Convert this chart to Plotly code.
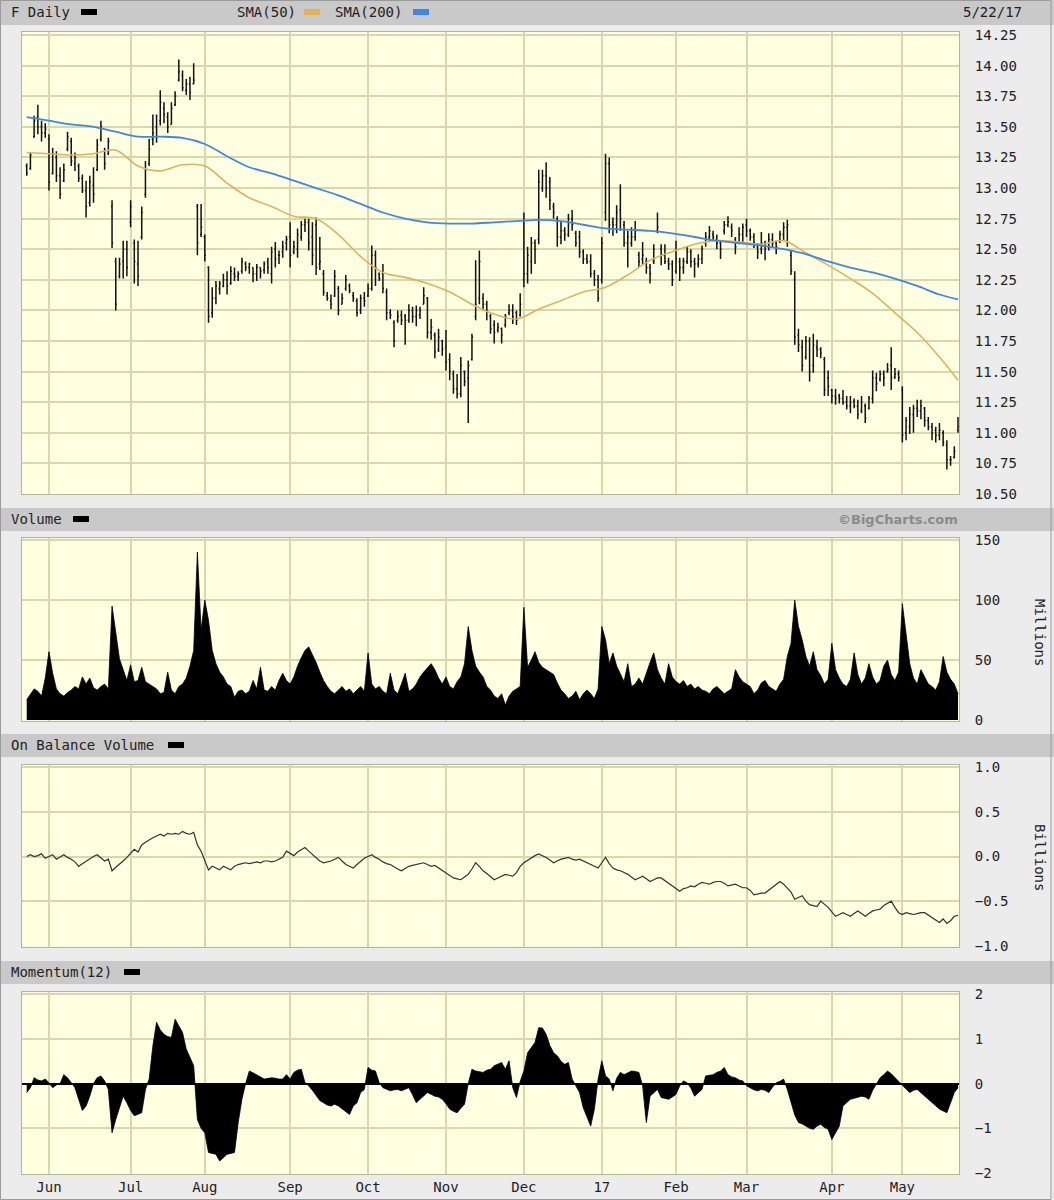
import pandas as pd
import plotly.graph_objects as go

# trading days shown (May 23 2016 .. May 22 2017, NYSE holidays removed)
holidays = ['2016-05-30', '2016-07-04', '2016-09-05', '2016-11-24', '2016-12-26',
            '2017-01-02', '2017-01-16', '2017-02-20', '2017-04-14']
days = pd.bdate_range('2016-05-23', '2017-05-22')
days = days[~days.isin(pd.to_datetime(holidays))]
dates = [d.strftime('%Y-%m-%d') for d in days]

month_starts = ['2016-06-01', '2016-07-01', '2016-08-01', '2016-09-01', '2016-10-03', '2016-11-01',
                '2016-12-01', '2017-01-03', '2017-02-01', '2017-03-01', '2017-04-03', '2017-05-01']
month_labels = ['Jun', 'Jul', 'Aug', 'Sep', 'Oct', 'Nov', 'Dec', '17', 'Feb', 'Mar', 'Apr', 'May']

# daily price bars (one row per month)
high = [
    13.20, 13.29, 13.59, 13.68, 13.55, 13.53,
    13.44, 13.33, 13.30, 13.17, 13.20, 13.46, 13.41, 13.29, 13.20, 13.11, 13.06, 13.10, 13.17, 13.40, 13.55, 13.33, 13.41, 12.90, 12.43, 12.43, 12.57, 12.57,
    12.90, 12.58, 12.57, 12.85, 13.22, 13.40, 13.60, 13.60, 13.80, 13.70, 13.62, 13.70, 13.79, 14.05, 13.96, 13.89, 13.91, 14.02, 12.87, 12.87,
    12.62, 12.36, 12.19, 12.24, 12.24, 12.30, 12.32, 12.36, 12.35, 12.32, 12.43, 12.40, 12.39, 12.35, 12.38, 12.35, 12.40, 12.43, 12.52, 12.56, 12.49, 12.57, 12.61,
    12.72, 12.57, 12.67, 12.73, 12.75, 12.75, 12.72, 12.76, 12.60, 12.33, 12.15, 12.13, 12.33, 12.20, 12.14, 12.29, 12.22, 12.15, 12.10, 12.13, 12.15,
    12.22, 12.53, 12.49, 12.31, 12.38, 12.18, 12.01, 11.92, 12.00, 12.00, 11.97, 12.05, 12.03, 12.04, 12.03, 12.19, 12.11, 11.93, 11.82, 11.85, 11.76,
    11.84, 11.65, 11.51, 11.48, 11.62, 11.51, 11.59, 11.81, 12.41, 12.49, 12.14, 12.08, 11.97, 11.92, 11.90, 11.86, 11.97, 12.05, 12.05, 12.00, 12.14,
    12.80, 12.52, 12.60, 12.58, 13.15, 13.15, 13.21, 13.09, 12.88, 12.77, 12.73, 12.68, 12.79, 12.82, 12.65, 12.65, 12.50, 12.46, 12.46, 12.33, 12.29,
    12.60, 13.28, 13.25, 12.76, 12.86, 13.03, 12.73, 12.65, 12.68, 12.73, 12.48, 12.56, 12.43, 12.38, 12.54, 12.80, 12.54, 12.54, 12.43, 12.41,
    12.57, 12.43, 12.43, 12.52, 12.50, 12.43, 12.46, 12.53, 12.64, 12.69, 12.65, 12.62, 12.57, 12.73, 12.77, 12.71, 12.60, 12.68, 12.71,
    12.75, 12.67, 12.63, 12.55, 12.64, 12.57, 12.63, 12.63, 12.57, 12.65, 12.72, 12.74, 12.49, 12.32, 11.85, 11.76, 11.79, 11.78, 11.81, 11.76, 11.70, 11.62, 11.51,
    11.36, 11.36, 11.32, 11.35, 11.30, 11.30, 11.28, 11.27, 11.30, 11.24, 11.30, 11.51, 11.49, 11.51, 11.51, 11.57, 11.70, 11.53, 11.51,
    11.38, 11.13, 11.21, 11.23, 11.27, 11.27, 11.21, 11.13, 11.08, 11.05, 11.08, 11.02, 10.94, 10.81, 10.89, 11.13,
]
low = [
    13.10, 13.15, 13.41, 13.44, 13.38, 13.41,
    12.98, 13.11, 13.05, 12.91, 13.05, 13.30, 13.18, 13.14, 13.05, 12.96, 12.76, 12.85, 12.88, 13.14, 13.38, 13.15, 13.27, 12.51, 12.00, 12.26, 12.26, 12.28,
    12.68, 12.22, 12.20, 12.58, 12.92, 13.18, 13.35, 13.37, 13.51, 13.53, 13.45, 13.52, 13.67, 13.87, 13.79, 13.76, 13.72, 13.85, 12.45, 12.60,
    12.40, 11.90, 11.94, 12.05, 12.13, 12.19, 12.13, 12.21, 12.24, 12.24, 12.30, 12.32, 12.30, 12.23, 12.24, 12.26, 12.30, 12.30, 12.22, 12.35, 12.38, 12.43, 12.49,
    12.35, 12.46, 12.43, 12.57, 12.64, 12.49, 12.37, 12.29, 12.33, 12.12, 12.08, 12.01, 12.11, 11.96, 12.05, 12.16, 12.14, 12.07, 11.95, 11.97, 12.03,
    12.11, 12.16, 12.20, 12.24, 12.14, 11.92, 11.93, 11.70, 11.90, 11.88, 11.72, 11.90, 11.90, 11.87, 11.93, 12.05, 11.77, 11.76, 11.61, 11.66, 11.63,
    11.51, 11.43, 11.32, 11.28, 11.29, 11.38, 11.08, 11.59, 11.92, 12.05, 12.00, 11.92, 11.81, 11.73, 11.82, 11.73, 11.86, 11.96, 11.89, 11.88, 11.95,
    12.19, 12.22, 12.30, 12.38, 12.54, 12.97, 12.92, 12.82, 12.75, 12.52, 12.54, 12.57, 12.60, 12.65, 12.52, 12.43, 12.38, 12.38, 12.27, 12.20, 12.07,
    12.22, 12.73, 12.63, 12.61, 12.63, 12.65, 12.52, 12.35, 12.52, 12.57, 12.35, 12.38, 12.30, 12.22, 12.38, 12.63, 12.37, 12.38, 12.33, 12.20,
    12.30, 12.24, 12.30, 12.38, 12.35, 12.27, 12.35, 12.38, 12.52, 12.57, 12.57, 12.50, 12.42, 12.62, 12.68, 12.60, 12.46, 12.54, 12.54,
    12.60, 12.57, 12.51, 12.42, 12.46, 12.41, 12.49, 12.52, 12.46, 12.55, 12.57, 12.52, 12.29, 11.72, 11.66, 11.50, 11.60, 11.42, 11.49, 11.62, 11.61, 11.30, 11.30,
    11.24, 11.23, 11.24, 11.23, 11.19, 11.16, 11.20, 11.11, 11.16, 11.08, 11.19, 11.24, 11.34, 11.42, 11.38, 11.49, 11.35, 11.44, 11.42,
    10.92, 10.94, 10.99, 11.00, 11.13, 11.11, 11.05, 11.02, 10.94, 10.92, 10.94, 10.89, 10.70, 10.73, 10.79, 11.00,
]
open_ = [
    13.18, 13.16, 13.42, 13.58, 13.50, 13.45,
    13.40, 13.12, 13.25, 13.10, 13.06, 13.32, 13.38, 13.20, 13.18, 13.08, 12.98, 12.88, 13.02, 13.15, 13.40, 13.30, 13.28, 12.85, 12.40, 12.28, 12.40, 12.50,
    12.72, 12.55, 12.38, 12.60, 12.95, 13.20, 13.40, 13.50, 13.55, 13.65, 13.58, 13.52, 13.68, 13.88, 13.92, 13.80, 13.85, 13.85, 12.85, 12.62,
    12.60, 12.35, 11.98, 12.10, 12.18, 12.20, 12.25, 12.22, 12.30, 12.28, 12.32, 12.38, 12.35, 12.35, 12.30, 12.35, 12.33, 12.40, 12.30, 12.50, 12.45, 12.48, 12.55,
    12.60, 12.48, 12.50, 12.60, 12.70, 12.72, 12.60, 12.70, 12.38, 12.30, 12.12, 12.08, 12.12, 12.18, 12.05, 12.18, 12.20, 12.12, 12.08, 12.00, 12.10,
    12.12, 12.18, 12.45, 12.30, 12.30, 12.15, 11.98, 11.90, 11.92, 11.96, 11.95, 11.92, 12.00, 11.95, 11.96, 12.05, 12.10, 11.82, 11.80, 11.68, 11.75,
    11.70, 11.60, 11.48, 11.36, 11.32, 11.50, 11.45, 11.60, 11.95, 12.10, 12.10, 12.05, 11.95, 11.88, 11.84, 11.85, 11.88, 11.98, 12.00, 11.98, 11.96,
    12.25, 12.30, 12.40, 12.55, 12.58, 13.00, 13.10, 13.05, 12.85, 12.75, 12.60, 12.65, 12.62, 12.75, 12.63, 12.60, 12.48, 12.42, 12.40, 12.30, 12.25,
    12.25, 12.80, 13.20, 12.72, 12.70, 12.82, 12.70, 12.55, 12.55, 12.60, 12.45, 12.42, 12.40, 12.35, 12.40, 12.65, 12.50, 12.45, 12.40, 12.38,
    12.32, 12.40, 12.35, 12.40, 12.48, 12.40, 12.38, 12.42, 12.55, 12.60, 12.62, 12.58, 12.55, 12.65, 12.70, 12.68, 12.58, 12.56, 12.62,
    12.70, 12.65, 12.60, 12.52, 12.50, 12.55, 12.52, 12.58, 12.55, 12.57, 12.62, 12.68, 12.45, 12.25, 11.80, 11.70, 11.62, 11.75, 11.55, 11.70, 11.68, 11.60, 11.45,
    11.35, 11.30, 11.30, 11.28, 11.25, 11.22, 11.26, 11.22, 11.18, 11.22, 11.20, 11.28, 11.45, 11.44, 11.48, 11.50, 11.55, 11.46, 11.48,
    11.35, 11.00, 11.05, 11.15, 11.20, 11.18, 11.20, 11.10, 11.05, 11.02, 10.98, 11.00, 10.90, 10.78, 10.80, 11.02,
]
close = [
    13.12, 13.27, 13.55, 13.50, 13.45, 13.48,
    13.05, 13.28, 13.10, 12.95, 13.15, 13.42, 13.22, 13.25, 13.08, 12.98, 12.85, 13.05, 12.95, 13.35, 13.50, 13.20, 13.38, 12.55, 12.05, 12.38, 12.50, 12.35,
    12.85, 12.40, 12.28, 12.80, 13.15, 13.32, 13.45, 13.42, 13.70, 13.60, 13.50, 13.65, 13.75, 13.95, 13.82, 13.85, 13.78, 13.88, 12.55, 12.68,
    12.45, 11.95, 12.10, 12.20, 12.22, 12.25, 12.20, 12.32, 12.28, 12.30, 12.40, 12.35, 12.38, 12.30, 12.35, 12.32, 12.38, 12.35, 12.48, 12.42, 12.45, 12.52, 12.58,
    12.45, 12.52, 12.62, 12.70, 12.72, 12.55, 12.45, 12.35, 12.40, 12.15, 12.10, 12.05, 12.28, 12.00, 12.10, 12.25, 12.16, 12.10, 11.98, 12.10, 12.08,
    12.18, 12.45, 12.35, 12.26, 12.18, 11.98, 11.96, 11.75, 11.95, 11.92, 11.92, 12.00, 11.95, 12.00, 12.00, 12.12, 11.82, 11.86, 11.66, 11.78, 11.68,
    11.58, 11.50, 11.36, 11.32, 11.55, 11.42, 11.55, 11.78, 12.05, 12.40, 12.05, 12.00, 11.85, 11.82, 11.86, 11.80, 11.95, 12.00, 11.95, 11.92, 12.05,
    12.30, 12.45, 12.55, 12.50, 13.05, 13.10, 13.00, 12.90, 12.80, 12.60, 12.65, 12.62, 12.75, 12.70, 12.55, 12.48, 12.42, 12.40, 12.30, 12.25, 12.10,
    12.55, 13.20, 12.70, 12.70, 12.80, 12.75, 12.55, 12.60, 12.60, 12.65, 12.40, 12.45, 12.35, 12.30, 12.50, 12.68, 12.45, 12.40, 12.38, 12.25,
    12.42, 12.35, 12.40, 12.48, 12.40, 12.38, 12.42, 12.50, 12.60, 12.65, 12.60, 12.55, 12.50, 12.70, 12.72, 12.65, 12.52, 12.62, 12.68,
    12.65, 12.60, 12.55, 12.48, 12.55, 12.50, 12.58, 12.55, 12.52, 12.62, 12.68, 12.70, 12.32, 11.78, 11.72, 11.55, 11.75, 11.50, 11.72, 11.68, 11.65, 11.35, 11.38,
    11.30, 11.28, 11.28, 11.25, 11.22, 11.25, 11.22, 11.15, 11.25, 11.12, 11.28, 11.45, 11.40, 11.48, 11.45, 11.52, 11.45, 11.48, 11.45,
    10.98, 11.10, 11.15, 11.20, 11.18, 11.22, 11.10, 11.05, 11.00, 10.98, 11.02, 10.92, 10.78, 10.78, 10.85, 11.05,
]

# moving averages, read every 6th trading day (plus the last day)
sma_step = 6
sma50 = [13.29, 13.28, 13.27, 13.28, 13.31, 13.18, 13.14, 13.19, 13.18, 13.04, 12.92, 12.85, 12.77, 12.75,
         12.62, 12.44, 12.31, 12.27, 12.22, 12.15, 12.05, 11.97, 11.93, 12.01, 12.08, 12.15, 12.19, 12.29,
         12.41, 12.48, 12.54, 12.57, 12.56, 12.54, 12.57, 12.47, 12.37, 12.26, 12.14, 11.98, 11.82, 11.62, 11.43]
sma200 = [13.58, 13.55, 13.52, 13.50, 13.46, 13.42, 13.42, 13.41, 13.36, 13.26, 13.17, 13.12, 13.06, 13.00,
          12.94, 12.87, 12.80, 12.75, 12.72, 12.71, 12.71, 12.72, 12.73, 12.74, 12.73, 12.70, 12.67, 12.66,
          12.65, 12.63, 12.60, 12.57, 12.55, 12.53, 12.50, 12.46, 12.40, 12.35, 12.31, 12.26, 12.20, 12.13, 12.09]

# volume, millions
volume = [
    17, 22, 26, 24, 20, 35,
    57, 39, 26, 22, 20, 23, 25, 28, 26, 36, 30, 35, 27, 25, 28, 30, 26, 95, 72, 51, 42, 33,
    46, 32, 33, 44, 32, 30, 28, 26, 22, 23, 40, 25, 22, 28, 30, 35, 45, 58, 140, 75,
    100, 83, 58, 47, 40, 36, 30, 28, 19, 24, 25, 22, 24, 33, 26, 44, 25, 24, 28, 25, 33, 39, 33,
    30, 36, 45, 52, 58, 61, 55, 48, 40, 33, 28, 24, 22, 25, 28, 24, 26, 22, 25, 28, 24,
    56, 30, 26, 28, 24, 22, 39, 25, 22, 30, 39, 24, 26, 30, 36, 40, 44, 47, 42, 35, 30,
    36, 28, 26, 32, 36, 47, 78, 58, 45, 40, 36, 28, 25, 20, 18, 22, 12.5, 20, 24, 26, 28,
    94, 44, 50, 57, 48, 44, 42, 40, 38, 31, 25, 22, 18, 20, 24, 17, 22, 25, 22, 18, 26,
    78, 67, 47, 56, 45, 38, 32, 47, 28, 30, 35, 30, 40, 48, 56, 42, 35, 30, 47, 36,
    32, 30, 33, 28, 30, 26, 28, 25, 24, 22, 26, 28, 25, 22, 24, 26, 42, 36, 32,
    30, 28, 22, 25, 31, 33, 28, 26, 24, 30, 34, 53, 64, 100, 78, 67, 53, 45, 57, 42, 37, 30, 34,
    64, 42, 35, 30, 28, 34, 56, 38, 30, 35, 47, 36, 30, 33, 45, 50, 38, 33, 40,
    97, 72, 47, 35, 30, 42, 36, 30, 28, 25, 32, 53, 40, 34, 30, 22,
]

# on balance volume, billions
obv = [
    0.00, 0.02, 0.00, 0.01, 0.03, -0.02,
    0.00, 0.02, -0.03, 0.00, 0.02, -0.01, -0.03, -0.06, -0.11, -0.08, -0.05, -0.03, 0.00, 0.02, -0.02, -0.05, -0.03, -0.16, -0.12, -0.09, -0.05, -0.01,
    0.03, 0.08, 0.05, 0.13, 0.16, 0.19, 0.21, 0.23, 0.25, 0.23, 0.26, 0.25, 0.26, 0.25, 0.28, 0.26, 0.25, 0.27, 0.13, 0.06,
    -0.05, -0.15, -0.11, -0.13, -0.15, -0.11, -0.13, -0.15, -0.11, -0.09, -0.08, -0.07, -0.08, -0.07, -0.06, -0.07, -0.05, -0.05, -0.06, -0.05, -0.03, -0.01, 0.06,
    0.03, 0.01, 0.05, 0.08, 0.10, 0.06, 0.02, -0.02, -0.05, -0.07, -0.06, -0.05, -0.03, -0.01, -0.05, -0.09, -0.11, -0.13, -0.09, -0.05, -0.02,
    0.00, 0.02, -0.01, -0.03, -0.06, -0.08, -0.09, -0.12, -0.14, -0.16, -0.13, -0.11, -0.10, -0.09, -0.08, -0.07, -0.09, -0.11, -0.10, -0.13, -0.16,
    -0.19, -0.22, -0.24, -0.25, -0.26, -0.23, -0.20, -0.14, -0.07, -0.11, -0.16, -0.19, -0.22, -0.26, -0.24, -0.22, -0.20, -0.21, -0.22, -0.18, -0.11,
    -0.07, -0.04, -0.01, 0.01, 0.03, 0.01, -0.01, -0.04, -0.07, -0.05, -0.03, -0.02, -0.01, -0.03, -0.04, -0.03, -0.05, -0.07, -0.09, -0.11, -0.13,
    -0.07, -0.01, -0.08, -0.13, -0.15, -0.16, -0.18, -0.20, -0.23, -0.26, -0.24, -0.22, -0.25, -0.28, -0.26, -0.24, -0.24, -0.27, -0.30, -0.33,
    -0.36, -0.39, -0.36, -0.35, -0.33, -0.34, -0.31, -0.29, -0.30, -0.31, -0.29, -0.28, -0.28, -0.30, -0.33, -0.32, -0.31, -0.33, -0.35,
    -0.35, -0.38, -0.43, -0.42, -0.41, -0.41, -0.38, -0.35, -0.32, -0.28, -0.31, -0.35, -0.40, -0.48, -0.46, -0.44, -0.50, -0.54, -0.55, -0.56, -0.50, -0.53, -0.57,
    -0.62, -0.67, -0.65, -0.63, -0.65, -0.67, -0.64, -0.61, -0.64, -0.67, -0.64, -0.61, -0.60, -0.59, -0.55, -0.52, -0.50, -0.57, -0.63,
    -0.65, -0.63, -0.64, -0.65, -0.64, -0.63, -0.63, -0.66, -0.69, -0.72, -0.74, -0.70, -0.75, -0.72, -0.67, -0.66,
]

# momentum(12)
momentum = [
    -0.20, -0.09, 0.13, 0.08, 0.06, 0.10,
    0.02, -0.09, -0.03, 0.00, 0.20, 0.13, 0.02, -0.09, -0.35, -0.60, -0.50, -0.28, 0.00, 0.13, 0.17, 0.06, -0.13, -1.10, -0.80, -0.54, -0.28, -0.43,
    -0.60, -0.72, -0.68, -0.65, -0.13, 0.10, 0.84, 1.37, 1.20, 1.10, 1.05, 1.03, 1.44, 1.30, 1.14, 0.77, 0.60, 0.40, -0.80, -1.00,
    -1.10, -1.54, -1.56, -1.58, -1.73, -1.65, -1.58, -1.56, -1.54, -0.87, -0.35, 0.00, 0.28, 0.24, 0.20, 0.15, 0.10, 0.12, 0.13, 0.12, 0.10, 0.10, 0.20,
    0.10, 0.25, 0.30, 0.32, 0.02, -0.05, -0.15, -0.28, -0.38, -0.43, -0.48, -0.50, -0.46, -0.50, -0.57, -0.62, -0.69, -0.50, -0.43, -0.20, -0.13,
    0.36, 0.30, 0.28, 0.02, -0.09, -0.12, -0.16, -0.14, -0.13, -0.16, -0.12, -0.09, -0.25, -0.43, -0.35, -0.28, -0.20, -0.24, -0.28, -0.30, -0.35,
    -0.45, -0.57, -0.62, -0.65, -0.55, -0.46, 0.00, 0.32, 0.28, 0.26, 0.25, 0.30, 0.32, 0.40, 0.43, 0.47, 0.32, 0.51, -0.09, -0.31, 0.05,
    0.28, 0.69, 0.80, 0.92, 1.25, 1.24, 1.10, 0.85, 0.69, 0.62, 0.50, 0.43, 0.47, 0.10, -0.05, -0.20, -0.54, -0.75, -0.95, -0.57, 0.10,
    0.51, 0.17, 0.10, -0.16, 0.12, 0.25, 0.20, 0.24, 0.28, 0.27, 0.25, -0.05, -0.87, -0.28, -0.20, -0.13, -0.31, -0.33, -0.35, -0.30,
    -0.24, -0.05, 0.06, 0.02, -0.10, -0.28, -0.20, -0.13, 0.17, 0.18, 0.20, 0.25, 0.28, 0.36, 0.20, 0.15, 0.13, 0.08, 0.06,
    -0.05, -0.09, -0.14, -0.16, -0.13, -0.15, -0.20, -0.08, 0.02, 0.05, 0.10, -0.13, -0.40, -0.70, -0.87, -0.90, -0.95, -1.00, -1.02, -0.95, -0.91, -0.98, -1.02,
    -1.25, -1.10, -0.95, -0.50, -0.42, -0.35, -0.33, -0.31, -0.28, -0.30, -0.35, -0.15, 0.00, 0.13, 0.20, 0.28, 0.22, 0.13, 0.05,
    -0.05, -0.12, -0.20, -0.15, -0.13, -0.20, -0.28, -0.35, -0.43, -0.50, -0.57, -0.61, -0.65, -0.43, -0.20, -0.09,
]

W, H = 1054, 1200
FONT = 'DejaVu Sans Mono'
GRID = '#d8d8aa'
BAND = '#c9c9c9'


def px(x):
    return x / W


def py(y):
    return 1 - y / H


sma_dates = dates[::sma_step] + [dates[-1]]

fig = go.Figure()
fig.add_trace(go.Ohlc(
    x=dates, open=open_, high=high, low=low, close=close,
    increasing=dict(line=dict(color='#111111', width=1.5)),
    decreasing=dict(line=dict(color='#111111', width=1.5)),
    tickwidth=0.3, showlegend=False, hoverinfo='skip', xaxis='x', yaxis='y'))
fig.add_trace(go.Scatter(x=sma_dates, y=sma50, mode='lines', line=dict(color='#e0b25e', width=1.6),
                         line_shape='spline', xaxis='x', yaxis='y'))
fig.add_trace(go.Scatter(x=sma_dates, y=sma200, mode='lines', line=dict(color='#3f86e6', width=1.8),
                         line_shape='spline', xaxis='x', yaxis='y'))
fig.add_trace(go.Scatter(x=dates, y=volume, mode='lines', fill='tozeroy', fillcolor='#000000',
                         line=dict(color='#000000', width=0.8), xaxis='x2', yaxis='y2'))
fig.add_trace(go.Scatter(x=dates, y=obv, mode='lines', line=dict(color='#333333', width=1.2),
                         xaxis='x3', yaxis='y3'))
fig.add_trace(go.Scatter(x=dates, y=momentum, mode='lines', fill='tozeroy', fillcolor='#000000',
                         line=dict(color='#000000', width=0.8), xaxis='x4', yaxis='y4'))

xdom = [px(22), px(959)]
panels = [  # (top px, bottom px, y range)
    (32, 494, [10.5, 14.275]),
    (538.3, 720.7, [-0.5, 151.5]),
    (765, 946.7, [-1.011, 1.026]),
    (992.3, 1174, [-2.02, 2.04]),
]
tickdefs = [
    dict(tickvals=[10.5 + 0.25 * k for k in range(16)], tickformat='.2f'),
    dict(tickvals=[0, 50, 100, 150]),
    dict(tickvals=[-1.0, -0.5, 0.0, 0.5, 1.0], tickformat='.1f'),
    dict(tickvals=[-2, -1, 0, 1, 2]),
]

layout = dict(
    width=W, height=H, margin=dict(l=0, r=0, t=0, b=0, autoexpand=False),
    paper_bgcolor='#ececec', plot_bgcolor='#ffffe2', showlegend=False,
    font=dict(family=FONT, size=14, color='#222222'),
)
for k, (top, bot, rng) in enumerate(panels):
    n = '' if k == 0 else str(k + 1)
    layout['xaxis' + n] = dict(
        domain=xdom, anchor='y' + n, type='category', categoryorder='array', categoryarray=dates,
        range=[-1.27, 251.27], tickvals=month_starts, ticktext=month_labels,
        showticklabels=(k == 3), ticks='', showgrid=True, gridcolor=GRID, gridwidth=2,
        showline=True, mirror=True, linecolor='#b5b59a', linewidth=1, zeroline=False,
        rangeslider=dict(visible=False), automargin=False,
        tickfont=dict(family=FONT, size=14, color='#222222'),
        **({} if k == 0 else dict(matches='x')))
    layout['yaxis' + n] = dict(
        domain=[py(bot), py(top)], anchor='x' + n, side='right', range=rng,
        showgrid=True, gridcolor=GRID, gridwidth=2, zeroline=(k == 3), zerolinecolor='#000000',
        zerolinewidth=2, ticks='outside', ticklen=12, tickcolor='rgba(0,0,0,0)',
        showline=True, mirror=True, linecolor='#b5b59a', linewidth=1, automargin=False,
        tickfont=dict(family=FONT, size=14, color='#222222'), **tickdefs[k])

shapes = []
for y0, y1 in [(0, 25), (508, 531), (734, 757), (961, 984)]:
    shapes.append(dict(type='rect', xref='paper', yref='paper', x0=0, x1=1, y0=py(y1), y1=py(y0),
                       fillcolor=BAND, line=dict(width=0), layer='below'))
# legend swatches
for x0, yc, col in [(81, 12, '#000000'), (304, 12, '#e0b25e'), (413, 12, '#3f86e6'),
                    (73, 519, '#000000'), (168, 745, '#000000'), (124, 972, '#000000')]:
    shapes.append(dict(type='rect', xref='paper', yref='paper', x0=px(x0), x1=px(x0 + 16),
                       y0=py(yc + 3), y1=py(yc - 3), fillcolor=col, line=dict(width=0)))
# outer frame
shapes.append(dict(type='rect', xref='paper', yref='paper', x0=px(0.5), x1=px(1051), y0=py(1199.5), y1=py(0.5),
                   line=dict(color='#9a9a9a', width=1)))
layout['shapes'] = shapes

ann = []


def label(text, x, y, anchor='left', **kw):
    ann.append(dict(text=text, x=px(x), y=py(y), xref='paper', yref='paper', showarrow=False,
                    xanchor=anchor, yanchor='middle', font=dict(family=FONT, size=14, color='#222222'), **kw))


label('F Daily', 9, 12)
label('SMA(50)', 235, 12)
label('SMA(200)', 333, 12)
label('5/22/17', 1024, 12, anchor='right')
label('Volume', 9, 519)
label('On Balance Volume', 9, 745)
label('Momentum(12)', 9, 972)
ann.append(dict(text='<b>©BigCharts.com</b>', x=px(960), y=py(519), xref='paper', yref='paper',
                showarrow=False, xanchor='right', yanchor='middle',
                font=dict(family='DejaVu Sans', size=13, color='#8a8a8a')))
label('Millions', 1040, 632, anchor='center', textangle=90)
label('Billions', 1040, 857, anchor='center', textangle=90)
layout['annotations'] = ann

fig.update_layout(**layout)
fig.write_html('out.html', config={'displayModeBar': False},
               post_script="document.body.style.margin='0';")
